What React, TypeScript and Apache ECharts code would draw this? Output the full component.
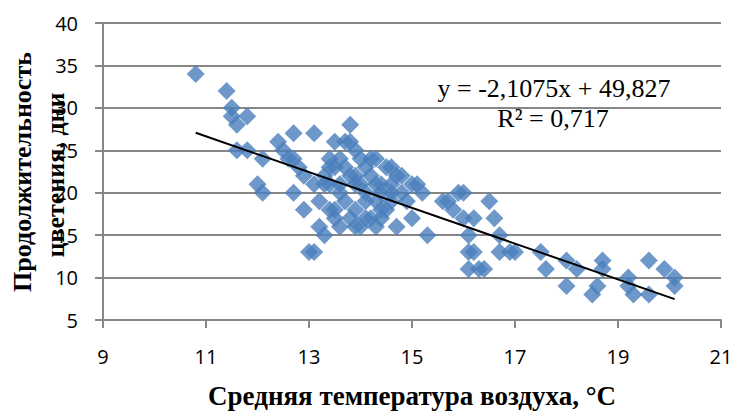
import React, { useEffect, useRef } from "react";
import * as echarts from "echarts";

// Average air temperature, °C
const tempC: number[] = [
  10.8, 11.4, 11.5, 11.5, 11.6, 11.8, 11.6, 11.8, 12.0, 12.1,
  12.1, 12.4, 12.5, 12.6, 12.7, 12.7, 12.7, 12.9, 13.0, 13.1,
  13.1, 13.2, 13.2, 13.3, 13.3, 13.4, 13.4, 13.5, 13.8, 13.8,
  13.9, 13.6, 14.2, 14.5, 14.6, 13.5, 14.1, 15.1, 14.8, 15.9,
  15.6, 13.9, 14.3, 14.6, 14.3, 13.5, 13.4, 13.6, 14.1, 14.3,
  14.7, 15.0, 15.3, 13.9, 14.5, 15.2, 15.7, 16.1, 16.1, 16.1,
  13.7, 13.9, 14.0, 14.2, 14.4, 14.1, 13.7, 13.6, 13.8, 14.0,
  14.2, 14.4, 14.4, 13.9, 14.6, 14.8, 15.0, 13.7, 14.0, 14.3,
  13.4, 13.6, 14.7, 14.4, 13.5, 14.1, 14.6, 14.9, 13.8, 13.3,
  16.0, 16.5, 16.0, 16.2, 16.6, 16.7, 16.2, 16.7, 16.9, 17.0,
  16.3, 16.4, 17.5, 17.6, 18.0, 18.2, 18.0, 18.5, 18.7, 18.7,
  18.6, 19.2, 19.2, 19.3, 19.6, 19.6, 19.9, 20.1, 20.1, 15.8,
  12.8, 12.9, 13.1,
];
// Flowering duration, days
const bloomDays: number[] = [
  34, 32, 30, 29, 28, 29, 25, 25, 21, 20,
  24, 26, 25, 24, 27, 24, 20, 18, 13, 13,
  27, 19, 16, 15, 22, 24, 21, 26, 28, 26,
  25, 24, 24, 23, 23, 23, 23, 21, 22, 20,
  19, 21, 21, 20, 19, 18, 18, 16, 17, 16,
  16, 17, 15, 18, 18, 20, 19, 15, 13, 11,
  23, 22, 21, 22, 21, 20, 19, 21, 17, 16,
  17, 17, 18, 16, 21, 20, 21, 26, 24, 24,
  23, 20, 22, 20, 17, 19, 19, 19, 22, 21,
  20, 19, 17, 17, 17, 15, 13, 13, 13, 13,
  11, 11, 13, 11, 12, 11, 9, 8, 12, 11,
  9, 10, 9, 8, 12, 8, 11, 10, 9, 18,
  23, 22, 21,
];

// Linear trend from the chart
const trendSlope = -2.1075;
const trendIntercept = 49.827;
const trendLabel = "y = -2,1075x + 49,827";
const r2Label = "R² = 0,717";

const xTickMin = 9;
const xTickMax = 21;
const yTickMin = 5;
const yTickMax = 40;

const xTitle = "Средняя температура воздуха, °C";
const yTitleLine1 = "Продолжительность";
const yTitleLine2 = "цветения, дни";

export default function App() {
  const ref = useRef<HTMLDivElement>(null);
  useEffect(() => {
    if (!ref.current) return;
    const chart = echarts.init(ref.current, undefined, { renderer: "svg" });
    const points = tempC.map((t, i) => [t, bloomDays[i]]);
    const xmin = Math.min(...tempC);
    const xmax = Math.max(...tempC);
    const trend = [
      [xmin, trendSlope * xmin + trendIntercept],
      [xmax, trendSlope * xmax + trendIntercept],
    ];
    const grey = "#878787";
    chart.setOption({
      animation: false,
      backgroundColor: "#ffffff",
      grid: { left: 103, right: 15, top: 23, bottom: 87, containLabel: false },
      xAxis: {
        type: "value",
        min: xTickMin,
        max: xTickMax,
        interval: 2,
        name: xTitle,
        nameLocation: "middle",
        nameGap: 62,
        nameTextStyle: {
          fontFamily: "Liberation Serif",
          fontWeight: "bold",
          fontSize: 27,
          color: "#000",
        },
        axisLine: { show: true, onZero: false, lineStyle: { color: grey, width: 2 } },
        axisTick: { show: true, length: 8, lineStyle: { color: grey, width: 2 } },
        axisLabel: {
          margin: 26,
          fontFamily: "Open Sans",
          fontSize: 20,
          color: "#000",
        },
        splitLine: { show: false },
      },
      yAxis: {
        type: "value",
        min: yTickMin,
        max: yTickMax,
        interval: 5,
        axisLine: { show: true, onZero: false, lineStyle: { color: grey, width: 2 } },
        axisTick: { show: true, length: 8, lineStyle: { color: grey, width: 2 } },
        axisLabel: {
          margin: 25,
          fontFamily: "Open Sans",
          fontSize: 20,
          color: "#000",
        },
        splitLine: { show: true, lineStyle: { color: grey, width: 2 } },
      },
      series: [
        {
          type: "scatter",
          data: points,
          symbol: "diamond",
          symbolSize: 18,
          itemStyle: { color: "#4a7ebb" },
          z: 2,
        },
        {
          type: "line",
          data: trend,
          symbol: "none",
          lineStyle: { color: "#000", width: 2 },
          z: 3,
        },
      ],
      graphic: [
        {
          type: "text",
          x: 554,
          y: 88,
          style: {
            text: trendLabel,
            font: "26px 'Liberation Serif'",
            fill: "#000",
            textAlign: "center",
            textVerticalAlign: "middle",
          },
          z: 10,
        },
        {
          type: "text",
          x: 553,
          y: 118,
          style: {
            text: r2Label,
            font: "26px 'Liberation Serif'",
            fill: "#000",
            textAlign: "center",
            textVerticalAlign: "middle",
          },
          z: 10,
        },
        {
          type: "text",
          x: 22,
          y: 172,
          rotation: Math.PI / 2,
          style: {
            text: yTitleLine1,
            font: "bold 26px 'Liberation Serif'",
            fill: "#000",
            textAlign: "center",
            textVerticalAlign: "middle",
          },
          z: 10,
        },
        {
          type: "text",
          x: 55,
          y: 175,
          rotation: Math.PI / 2,
          style: {
            text: yTitleLine2,
            font: "bold 26px 'Liberation Serif'",
            fill: "#000",
            textAlign: "center",
            textVerticalAlign: "middle",
          },
          z: 10,
        },
      ],
    });
    return () => chart.dispose();
  }, []);
  return (
    <div
      ref={ref}
      style={{ position: "fixed", left: 0, top: 0, width: 736, height: 414, background: "#fff" }}
    />
  );
}
